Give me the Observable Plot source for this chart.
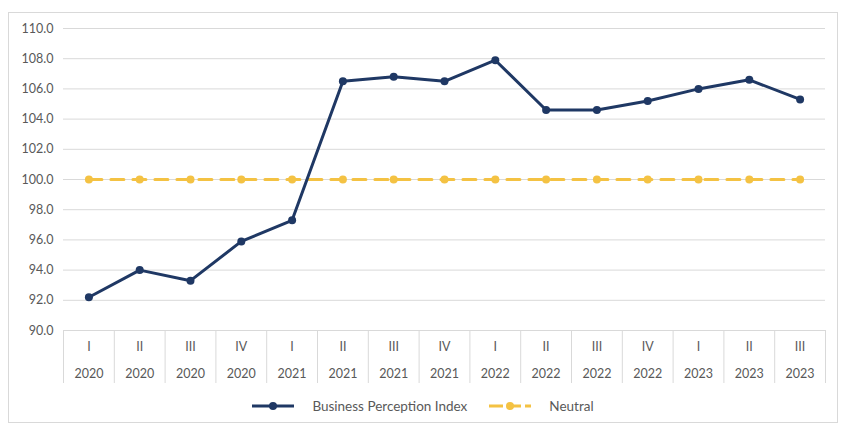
<!DOCTYPE html>
<html>
<head>
<meta charset="utf-8">
<script src="https://cdn.jsdelivr.net/npm/d3@7"></script>
<script src="https://cdn.jsdelivr.net/npm/@observablehq/plot@0.6"></script>
<style>
  html, body { margin: 0; padding: 0; background: #fff; }
  #frame { position: absolute; left: 8px; top: 12px; width: 830px; height: 411px; border: 1px solid #d9d9d9; box-sizing: border-box; font-family: Lato, "Open Sans", sans-serif; }
  #legend { position: absolute; left: 0; top: 385px; width: 100%; display: flex; justify-content: center; gap: 22px; font-size: 13.5px; color: #595959; align-items: center; padding-left: 0px; }
  .item { display: flex; align-items: center; gap: 18px; }
</style>
</head>
<body>
<div id="frame"><div id="chart"></div><div id="legend"></div></div>
<script>
const quarters = ["I","II","III","IV","I","II","III","IV","I","II","III","IV","I","II","III"];
const years = ["2020","2020","2020","2020","2021","2021","2021","2021","2022","2022","2022","2022","2023","2023","2023"];
const bpi = [92.2, 94.0, 93.3, 95.9, 97.3, 106.5, 106.8, 106.5, 107.9, 104.6, 104.6, 105.2, 106.0, 106.6, 105.3];
const neutral = [100,100,100,100,100,100,100,100,100,100,100,100,100,100,100];
const yTicks = [90,92,94,96,98,100,102,104,106,108,110];
const seriesNames = ["Business Perception Index", "Neutral"];
const colors = ["#1f3864", "#f4c243"];

const rows = quarters.map((q, i) => ({i, pos: i + 0.5, q, year: years[i], bpi: bpi[i], neutral: neutral[i]}));
const edges = d3.range(quarters.length + 1);

const chart = Plot.plot({
  width: 828,
  height: 380,
  marginLeft: 54,
  marginRight: 12,
  marginTop: 15,
  marginBottom: 63,
  style: {fontFamily: "Lato, 'Open Sans', sans-serif", fontSize: "12.5px", color: "#595959"},
  x: {domain: [0, quarters.length], axis: null, label: null},
  y: {domain: [90, 110], axis: null, label: null},
  marks: [
    Plot.ruleY(yTicks.filter(d => d > 90), {stroke: "#d9d9d9", strokeWidth: 1}),
    Plot.axisY({ticks: yTicks, tickSize: 0, tickPadding: 10, tickFormat: d3.format(".1f"), fill: "#595959", fontSize: 12.5, label: null}),
    Plot.axisX({ticks: edges, tickSize: 53, tickFormat: () => "", stroke: "#d9d9d9", label: null}),
    Plot.ruleY([90], {stroke: "#d9d9d9", strokeWidth: 1}),
    Plot.text(rows, {x: "pos", text: "q", frameAnchor: "bottom", dy: 20, fill: "#595959"}),
    Plot.text(rows, {x: "pos", text: "year", frameAnchor: "bottom", dy: 47, fill: "#595959"}),
    Plot.line(rows, {x: "pos", y: "neutral", stroke: colors[1], strokeWidth: 3, strokeDasharray: "13,9"}),
    Plot.dot(rows, {x: "pos", y: "neutral", fill: colors[1], r: 4}),
    Plot.line(rows, {x: "pos", y: "bpi", stroke: colors[0], strokeWidth: 3}),
    Plot.dot(rows, {x: "pos", y: "bpi", fill: colors[0], r: 4})
  ]
});
document.getElementById("chart").appendChild(chart);

const legend = document.getElementById("legend");
seriesNames.forEach((name, k) => {
  const item = document.createElement("div");
  item.className = "item";
  const dash = k === 1 ? 'stroke-dasharray="14,4"' : '';
  item.innerHTML = `<svg width="42" height="12"><line x1="0" x2="42" y1="6" y2="6" stroke="${colors[k]}" stroke-width="3" ${dash}/><circle cx="21" cy="6" r="4" fill="${colors[k]}"/></svg><span>${name}</span>`;
  legend.appendChild(item);
});
</script>
</body>
</html>
